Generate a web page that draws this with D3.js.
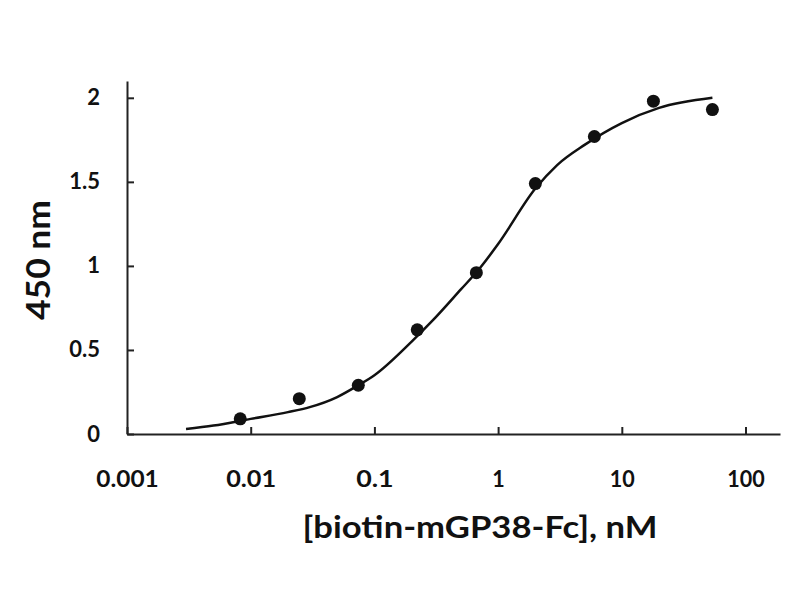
<!DOCTYPE html>
<html>
<head>
<meta charset="utf-8">
<script src="https://cdn.jsdelivr.net/npm/d3@7"></script>
<style>
  html, body { margin: 0; padding: 0; background: #fff; }
  svg { display: block; }
  text { font-family: Lato, "Open Sans", sans-serif; fill: #111; }
</style>
</head>
<body>
<svg id="chart" width="800" height="600"></svg>
<script>
// Measured points: concentration (nM) and absorbance at 450 nm
const concentrations = [0.00823, 0.0247, 0.0741, 0.222, 0.667, 2, 6, 18, 54];
const absorbance     = [0.09,    0.21,   0.29,   0.62,  0.96,  1.49, 1.77, 1.98, 1.93];

// Fitted curve
const curveConc = [0.003, 0.005, 0.01, 0.02, 0.03, 0.05, 0.074, 0.1, 0.2, 0.3, 0.5, 0.7, 1, 2, 3, 5, 10, 20, 54];
const curveAbs  = [0.03,  0.05,  0.09, 0.13, 0.16, 0.22, 0.29,  0.35, 0.55, 0.68, 0.86, 0.98, 1.13, 1.46, 1.6, 1.72, 1.85, 1.94, 2.0];

const xTicks = [0.001, 0.01, 0.1, 1, 10, 100];
const xTickLabels = ["0.001", "0.01", "0.1", "1", "10", "100"];
const yTicks = [0, 0.5, 1, 1.5, 2];
const yTickLabels = ["0", "0.5", "1", "1.5", "2"];
const xTitle = "[biotin-mGP38-Fc], nM";
const yTitle = "450 nm";

const svg = d3.select("#chart");
const x = d3.scaleLog().domain([0.001, 190]).range([127, 780]);
const y = d3.scaleLinear().domain([0, 2.1]).range([434, 81]);

// X axis
const xAxis = d3.axisBottom(x).tickValues(xTicks)
  .tickFormat((d, i) => xTickLabels[i]).tickSizeInner(-7).tickSizeOuter(0).tickPadding(53);
const gx = svg.append("g").attr("transform", `translate(0,${y(0)})`).call(xAxis);
gx.select(".domain").attr("stroke", "#222").attr("stroke-width", 2);
gx.selectAll(".tick line").attr("stroke", "#222").attr("stroke-width", 2);
gx.selectAll(".tick text").attr("font-size", 22).attr("font-weight", 700)
  .attr("font-family", "Lato, sans-serif").attr("fill", "#111").attr("dy", "0")
  .each(function() {
    const t = d3.select(this);
    t.attr("textLength", t.text().length * 12.5).attr("lengthAdjust", "spacingAndGlyphs");
  });

// Y axis
const yAxis = d3.axisLeft(y).tickValues(yTicks)
  .tickFormat((d, i) => yTickLabels[i]).tickSizeInner(-7).tickSizeOuter(0).tickPadding(27);
const gy = svg.append("g").attr("transform", `translate(${x(0.001)},0)`).call(yAxis);
gy.select(".domain").attr("stroke", "#222").attr("stroke-width", 2);
gy.selectAll(".tick line").attr("stroke", "#222").attr("stroke-width", 2);
gy.selectAll(".tick text").attr("font-size", 22).attr("font-weight", 700)
  .attr("font-family", "Lato, sans-serif").attr("fill", "#111");

// Titles
svg.append("text").attr("x", 480).attr("y", 538).attr("text-anchor", "middle")
  .attr("font-size", 31).attr("font-weight", 700)
  .attr("textLength", 355).attr("lengthAdjust", "spacingAndGlyphs").text(xTitle);
svg.append("text").attr("transform", `translate(50,${260}) rotate(-90)`)
  .attr("text-anchor", "middle").attr("font-size", 32).attr("font-weight", 700)
  .attr("textLength", 120).attr("lengthAdjust", "spacingAndGlyphs").text(yTitle);

// Fitted curve
const curveData = curveConc.map((c, i) => [c, curveAbs[i]]);
svg.append("path").datum(curveData)
  .attr("fill", "none").attr("stroke", "#111").attr("stroke-width", 2.5)
  .attr("d", d3.line().x(d => x(d[0])).y(d => y(d[1])).curve(d3.curveMonotoneX));

// Points
svg.selectAll("circle.pt").data(concentrations.map((c, i) => [c, absorbance[i]]))
  .enter().append("circle").attr("class", "pt")
  .attr("cx", d => x(d[0])).attr("cy", d => y(d[1])).attr("r", 6.5).attr("fill", "#111");
</script>
</body>
</html>
